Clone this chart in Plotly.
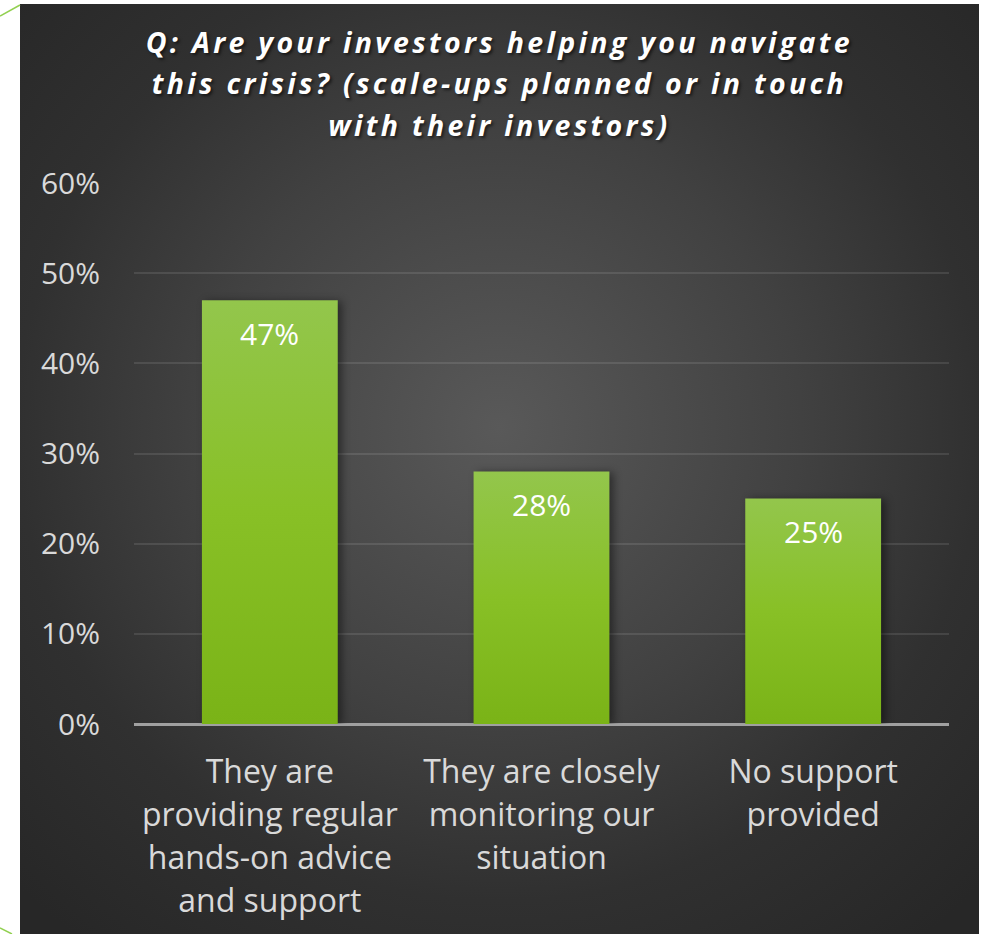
import base64
import plotly.graph_objects as go

# Survey answers and shares of respondents
categories = [
    "They are<br>providing regular<br>hands-on advice<br>and support",
    "They are closely<br>monitoring our<br>situation",
    "No support<br>provided",
]
shares = [0.47, 0.28, 0.25]
tick_values = [0, 0.1, 0.2, 0.3, 0.4, 0.5, 0.6]
tick_labels = ["0%", "10%", "20%", "30%", "40%", "50%", "60%"]
title_text = ("Q: Are your investors helping you navigate<br>"
              "this crisis? (scale-ups planned or in touch<br>"
              "with their investors)")

W, H = 990, 934
M_L, M_R, M_T, M_B = 134, 41, 183, 210
PW, PH = W - M_L - M_R, H - M_T - M_B


def px_x(px):
    return (px - M_L) / PW


def px_y(py):
    return (H - M_B - py) / PH


FONT = "Open Sans"

fig = go.Figure(
    go.Bar(
        x=categories,
        y=shares,
        marker=dict(color="#88bf27", line=dict(width=0)),
        hoverinfo="skip",
    )
)

# value labels inside the top of each bar
for c, v in zip(categories, shares):
    fig.add_annotation(
        x=c, y=v, xref="x", yref="y",
        text=f"{round(v * 100)}%",
        showarrow=False, yanchor="middle", yshift=-33,
        font=dict(family=FONT, size=30, color="#ffffff"),
    )

# chart title
fig.add_annotation(
    x=px_x(499.5), y=px_y(21), xref="paper", yref="paper",
    text=title_text, showarrow=False, xanchor="center", yanchor="top",
    align="center",
    font=dict(family=FONT, size=28.5, color="#ffffff", weight=700,
              style="italic", shadow="2px 2px 3px rgba(0,0,0,0.55)"),
)

# dark panel with a soft radial glow
panel_svg = (
    "<svg xmlns='http://www.w3.org/2000/svg' width='959' height='940' "
    "viewBox='0 0 959 940' preserveAspectRatio='none'>"
    "<defs><radialGradient id='g' cx='50%' cy='45%' r='70%'>"
    "<stop offset='0' stop-color='#595959'/>"
    "<stop offset='0.45' stop-color='#414141'/>"
    "<stop offset='0.72' stop-color='#303030'/>"
    "<stop offset='1' stop-color='#272727'/>"
    "</radialGradient></defs>"
    "<rect width='959' height='940' fill='url(#g)'/></svg>"
)
panel_src = "data:image/svg+xml;base64," + base64.b64encode(panel_svg.encode()).decode()
fig.add_layout_image(
    source=panel_src, xref="paper", yref="paper",
    x=px_x(20), y=px_y(4), sizex=959 / PW, sizey=940 / PH,
    xanchor="left", yanchor="top", sizing="stretch", layer="below",
)

# thin green accent strokes at the left edge
fig.add_shape(type="line", xref="paper", yref="paper",
              x0=px_x(0), y0=px_y(16), x1=px_x(20), y1=px_y(5),
              line=dict(color="#92d050", width=1.5))
fig.add_shape(type="line", xref="paper", yref="paper",
              x0=px_x(0), y0=px_y(928), x1=px_x(12), y1=px_y(934),
              line=dict(color="#92d050", width=1.5))

fig.update_layout(
    width=W, height=H,
    margin=dict(l=M_L, r=M_R, t=M_T, b=M_B),
    paper_bgcolor="#ffffff",
    plot_bgcolor="rgba(0,0,0,0)",
    bargap=0.5,
    showlegend=False,
    xaxis=dict(
        tickfont=dict(family=FONT, size=32, color="#d9d9d9"),
        showgrid=False, showline=False, zeroline=False, ticks="",
        ticklabelstandoff=26, fixedrange=True,
    ),
    yaxis=dict(
        range=[0, 0.6], tickvals=tick_values, ticktext=tick_labels,
        tickfont=dict(family=FONT, size=30, color="#d9d9d9"),
        showgrid=True, gridcolor="rgba(255,255,255,0.10)", gridwidth=2,
        zeroline=True, zerolinecolor="#a0a0a0", zerolinewidth=2.5,
        showline=False, ticks="", ticklabelstandoff=33, fixedrange=True,
    ),
)

post = """
var gd = document.getElementById('{plot_id}');
var ns = 'http://www.w3.org/2000/svg';
var svg = gd.querySelector('svg.main-svg');
var defs = svg.querySelector('defs');
if (!defs) { defs = document.createElementNS(ns, 'defs'); svg.insertBefore(defs, svg.firstChild); }
var lg = document.createElementNS(ns, 'linearGradient');
lg.setAttribute('id', 'barfill');
lg.setAttribute('x1', '0'); lg.setAttribute('y1', '0');
lg.setAttribute('x2', '0'); lg.setAttribute('y2', '1');
[['0', '#93c64c'], ['0.5', '#88c026'], ['1', '#7ab317']].forEach(function (s) {
  var st = document.createElementNS(ns, 'stop');
  st.setAttribute('offset', s[0]); st.setAttribute('stop-color', s[1]);
  lg.appendChild(st);
});
defs.appendChild(lg);
gd.querySelectorAll('.barlayer .point path').forEach(function (p) {
  p.style.fill = 'url(#barfill)';
  p.style.filter = 'drop-shadow(4px 1px 4px rgba(0,0,0,0.45))';
});
gd.querySelectorAll('.xtick text tspan.line').forEach(function (t) {
  var dy = parseFloat(t.getAttribute('dy'));
  if (!isNaN(dy)) t.setAttribute('dy', (dy * 43 / (32 * 1.3)) + 'em');
});
gd.querySelectorAll('text.annotation-text').forEach(function (t) {
  if (t.style.fontStyle === 'italic') {
    t.style.letterSpacing = '3.3px';
    t.querySelectorAll('tspan.line').forEach(function (l) {
      var dy = parseFloat(l.getAttribute('dy'));
      if (!isNaN(dy)) l.setAttribute('dy', (dy * 1.45 / 1.3) + 'em');
    });
  }
});
"""

fig.write_html("out.html", post_script=post, config={"displayModeBar": False})
